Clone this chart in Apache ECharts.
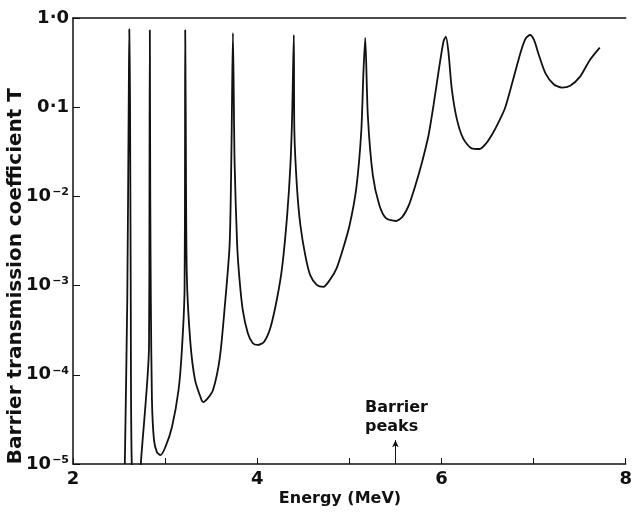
<!DOCTYPE html>
<html>
<head>
<meta charset="utf-8">
<script src="https://cdn.jsdelivr.net/npm/echarts@6/dist/echarts.min.js"></script>
<style>
html,body{margin:0;padding:0;background:#fff;}
#chart{width:635px;height:522px;}
</style>
</head>
<body>
<div id="chart"></div>
<script>
// Energy (MeV) values of the traced curve
var energy = [
  2.5625, 2.589, 2.605, 2.611, 2.619, 2.627, 2.638, 2.70,
  2.736, 2.825, 2.830, 2.834, 2.839, 2.845, 2.857, 2.879, 2.911, 2.950, 3.004, 3.075, 3.146, 3.182, 3.211, 3.216, 3.218,
  3.224, 3.235, 3.272, 3.325, 3.396, 3.414, 3.460, 3.521, 3.593, 3.647, 3.700, 3.720, 3.736,
  3.754, 3.782, 3.808, 3.843, 3.897, 3.950, 4.004, 4.075, 4.146, 4.218, 4.271, 4.325, 4.360, 4.379, 4.397,
  4.403, 4.432, 4.468, 4.521, 4.575, 4.646, 4.718, 4.789, 4.861, 4.933, 5.003, 5.075, 5.129, 5.153, 5.172,
  5.200, 5.254, 5.325, 5.397, 5.504, 5.575, 5.646, 5.718, 5.790, 5.860, 5.914, 5.968, 6.021, 6.047,
  6.075, 6.111, 6.165, 6.235, 6.326, 6.414, 6.486, 6.557, 6.620, 6.690, 6.771, 6.861, 6.915, 6.961,
  7.004, 7.057, 7.129, 7.218, 7.307, 7.397, 7.504, 7.611, 7.718
];
// Barrier transmission coefficient T
var transmission = [
  1.0e-5, 6.9e-4, 0.12, 0.75, 0.12, 6.9e-4, 1.0e-5, 2.0e-6,
  1.0e-5, 2.05e-4, 9.1e-3, 0.73, 9.1e-3, 6.9e-4, 5.2e-5, 1.86e-5, 1.36e-5, 1.26e-5, 1.56e-5, 2.62e-5, 6.8e-5, 1.9e-4, 8.9e-4, 0.033, 0.733,
  0.072, 1.38e-3, 2.45e-4, 8.7e-5, 5.2e-5, 4.95e-5, 5.4e-5, 6.8e-5, 1.54e-4, 5.75e-4, 2.85e-3, 0.033, 0.68,
  0.0243, 2.85e-3, 1.16e-3, 5.3e-4, 2.94e-4, 2.27e-4, 2.16e-4, 2.35e-4, 3.46e-4, 7.45e-4, 1.63e-3, 6.2e-3, 0.0225, 0.0818, 0.645,
  0.053, 0.0123, 4.78e-3, 2.2e-3, 1.31e-3, 1.02e-3, 9.7e-4, 1.16e-3, 1.56e-3, 2.62e-3, 4.78e-3, 0.0123, 0.053, 0.25, 0.597,
  0.0818, 0.0174, 8.0e-3, 5.7e-3, 5.3e-3, 5.9e-3, 8.0e-3, 0.0134, 0.0245, 0.0488, 0.106, 0.25, 0.542, 0.617,
  0.419, 0.163, 0.075, 0.0448, 0.0346, 0.034, 0.0394, 0.051, 0.068, 0.098, 0.193, 0.419, 0.592, 0.645,
  0.567, 0.385, 0.24, 0.181, 0.166, 0.174, 0.22, 0.338, 0.465
];
var xTickLabels = {2: '2', 4: '4', 6: '6', 8: '8'};
var yTickLabels = {'1': '1·0', '0.1': '0·1', '0.01': '{b|10}{s|−2}', '0.001': '{b|10}{s|−3}', '0.0001': '{b|10}{s|−4}', '0.00001': '{b|10}{s|−5}'};
var barrierPeakEnergy = 5.5;

var data = energy.map(function (e, i) { return [e, transmission[i]]; });
var FONT = 'DejaVu Sans';
var chart = echarts.init(document.getElementById('chart'), null, {renderer: 'canvas'});
chart.setOption({
  animation: false,
  backgroundColor: '#fff',
  grid: {left: 73, right: 2, top: 18, bottom: 58, containLabel: false},
  xAxis: [{
    type: 'value', min: 2, max: 8, interval: 1,
    axisLine: {show: true, lineStyle: {color: '#111', width: 1.5}},
    axisTick: {show: true, inside: true, length: 6, lineStyle: {color: '#111', width: 1}},
    splitLine: {show: false},
    axisLabel: {
      color: '#111', fontFamily: FONT, fontSize: 18, fontWeight: 'bold', margin: 6,
      formatter: function (v) { return xTickLabels[v] || ''; }
    }
  }, {
    type: 'value', min: 2, max: 8, position: 'top',
    axisLine: {show: true, onZero: false, lineStyle: {color: '#111', width: 1.5}},
    axisTick: {show: false}, axisLabel: {show: false}, splitLine: {show: false}
  }],
  yAxis: {
    type: 'log', logBase: 10, min: 0.00001, max: 1,
    axisLine: {show: true, lineStyle: {color: '#111', width: 1.5}},
    axisTick: {show: true, inside: true, length: 7, lineStyle: {color: '#111', width: 1}},
    splitLine: {show: false},
    minorTick: {show: false},
    axisLabel: {
      color: '#111', fontFamily: FONT, fontSize: 18, fontWeight: 'bold', margin: 4,
      formatter: function (v) {
        var key = String(Number(v.toPrecision(3)));
        return yTickLabels[key] !== undefined ? yTickLabels[key] : '';
      },
      rich: {
        b: {fontFamily: FONT, fontSize: 18, fontWeight: 'bold', color: '#111'},
        s: {fontFamily: FONT, fontSize: 11, fontWeight: 'bold', color: '#111', verticalAlign: 'top', padding: [0, 0, 8, 1]}
      }
    }
  },
  series: [{
    type: 'line', data: data, xAxisIndex: 0, showSymbol: false, smooth: 0.25, clip: true,
    lineStyle: {color: '#111', width: 1.8},
    markLine: {
      silent: true, symbol: ['none', 'arrow'], symbolSize: [5, 7], label: {show: false},
      lineStyle: {color: '#111', width: 1, type: 'solid'},
      data: [[{coord: [barrierPeakEnergy, 0.00001]}, {coord: [barrierPeakEnergy, 0.0000185]}]]
    }
  }],
  graphic: [
    {type: 'text', left: 6, top: 88, rotation: Math.PI / 2, originX: 0, originY: 0,
     style: {text: 'Barrier transmission coefficient T', font: 'bold 20px "DejaVu Sans"', fill: '#111'},
     z: 10},
    {type: 'text', x: 340, y: 499,
     style: {text: 'Energy (MeV)', font: 'bold 16px "DejaVu Sans"', fill: '#111', align: 'center', verticalAlign: 'middle'}},
    {type: 'text', x: 365, y: 398,
     style: {text: 'Barrier\npeaks', font: 'bold 16px "DejaVu Sans"', fill: '#111', lineHeight: 19}}
  ]
});
</script>
</body>
</html>
